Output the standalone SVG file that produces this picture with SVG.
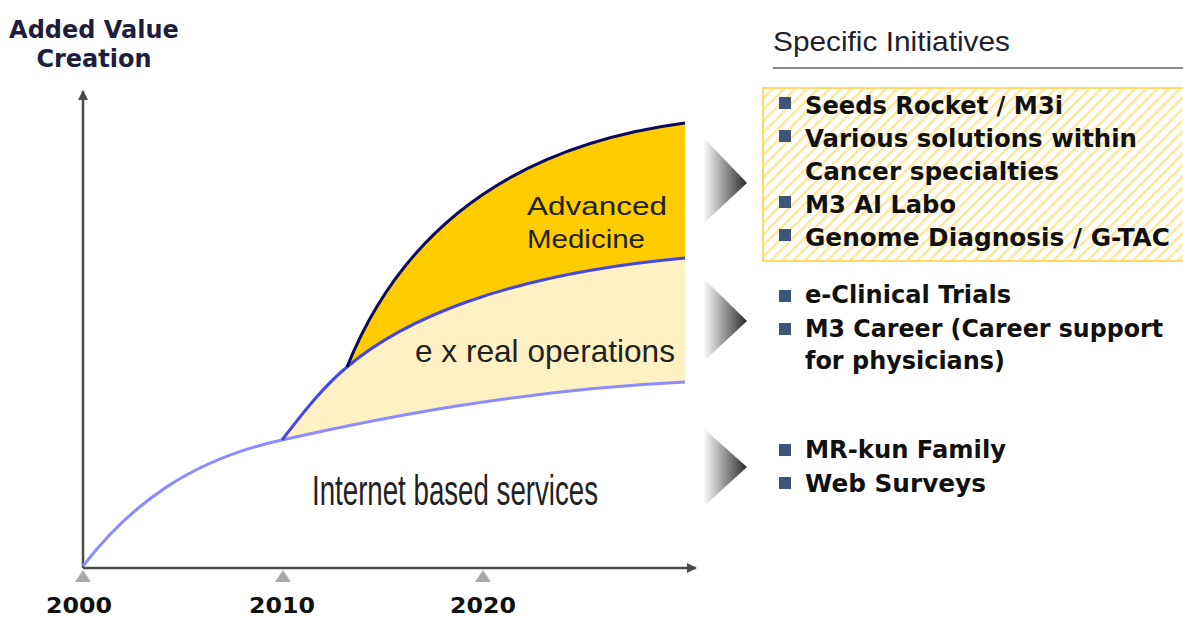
<svg xmlns="http://www.w3.org/2000/svg" width="1183" height="619" viewBox="0 0 1183 619">
<defs>
<style>
.title{font-family:"DejaVu Sans",Verdana,sans-serif;font-weight:bold;font-size:24px;fill:#1e1e3c}
.year{font-family:"DejaVu Sans",Verdana,sans-serif;font-weight:bold;font-size:22px;fill:#111}
.item{font-family:"DejaVu Sans",Verdana,sans-serif;font-weight:bold;font-size:24px;fill:#111}
.area{font-family:"Liberation Sans",Arial,sans-serif;fill:#222}
.bullet{fill:#3d5578}
.axis{stroke:#4a4a4a;stroke-width:2.5;fill:none}
.tick{fill:#aaaaaa}
</style>
<linearGradient id="chev" x1="0" y1="0" x2="1" y2="0">
<stop offset="0" stop-color="#ffffff"/>
<stop offset="1" stop-color="#2a2a2a"/>
</linearGradient>
<pattern id="hatch" patternUnits="userSpaceOnUse" width="8" height="8" patternTransform="rotate(45)">
<rect width="8" height="8" fill="#ffffff"/>
<rect width="2.5" height="8" fill="#ffe699"/>
</pattern>
<marker id="arr" viewBox="0 0 10 10" refX="9" refY="5" markerWidth="4" markerHeight="4" orient="auto">
<path d="M0,0 L10,5 L0,10 Z" fill="#4a4a4a"/>
</marker>
</defs>
<rect width="1183" height="619" fill="#ffffff"/>

<g id="chart-areas">
<path id="advanced-area" d="M347,367 C390,260 480,150 685,123 L685,258 C500,275 400,322 347,367 Z" fill="#ffcc00"/>
<path id="ex-area" d="M282,440 C305,410 325,385 347,367 C400,322 500,275 685,258 L685,382 C520,390 380,418 282,440 Z" fill="#fff1c4"/>
</g>

<g id="connectors">
<line class="axis" x1="83" y1="568" x2="83" y2="91" marker-end="url(#arr)"/>
<line class="axis" x1="83" y1="568" x2="696" y2="568" marker-end="url(#arr)"/>
<path id="internet-curve" d="M83,566 C130,505 190,460 282,440 C380,418 520,390 685,382" fill="none" stroke="#8c8cff" stroke-width="3"/>
<path id="ex-curve" d="M282,440 C305,410 325,385 347,367 C400,322 500,275 685,258" fill="none" stroke="#4646e0" stroke-width="3"/>
<path id="advanced-curve" d="M347,367 C390,260 480,150 685,123" fill="none" stroke="#0a0a5e" stroke-width="3"/>
<polygon points="703,137 747,183 703,224" fill="url(#chev)"/>
<polygon points="703,278 747,321 703,362" fill="url(#chev)"/>
<polygon points="703,428 747,467 703,507" fill="url(#chev)"/>
</g>

<g id="y-axis-label">
<text class="title" x="94" y="38" text-anchor="middle">Added Value</text>
<text class="title" x="94" y="67" text-anchor="middle">Creation</text>
</g>

<g id="time-axis">
<polygon class="tick" points="75,582 83,570 91,582"/>
<polygon class="tick" points="275,582 283,570 291,582"/>
<polygon class="tick" points="475,582 483,570 491,582"/>
<text class="year" x="79" y="613" text-anchor="middle" textLength="66" lengthAdjust="spacingAndGlyphs">2000</text>
<text class="year" x="282" y="613" text-anchor="middle" textLength="66" lengthAdjust="spacingAndGlyphs">2010</text>
<text class="year" x="483" y="613" text-anchor="middle" textLength="66" lengthAdjust="spacingAndGlyphs">2020</text>
</g>

<g id="advanced-medicine">
<text class="area" x="527" y="215" font-size="25" textLength="140" lengthAdjust="spacingAndGlyphs">Advanced</text>
<text class="area" x="527" y="248" font-size="25" textLength="118" lengthAdjust="spacingAndGlyphs">Medicine</text>
</g>

<g id="ex-real-operations">
<text class="area" x="415" y="362" font-size="32" textLength="260" lengthAdjust="spacingAndGlyphs">e x real operations</text>
</g>

<g id="internet-services">
<text class="area" x="312" y="505" font-size="43" textLength="286" lengthAdjust="spacingAndGlyphs">Internet based services</text>
</g>

<g id="specific-initiatives">
<text x="773" y="51" font-family="Liberation Sans, Arial, sans-serif" font-size="28" fill="#1e1e2e" textLength="237" lengthAdjust="spacingAndGlyphs">Specific Initiatives</text>
<line x1="773" y1="68" x2="1183" y2="68" stroke="#8a8a8a" stroke-width="2"/>
</g>

<g id="advanced-initiatives">
<rect x="763" y="88" width="422" height="173" fill="url(#hatch)" stroke="#ffd966" stroke-width="2"/>
<rect class="bullet" x="779" y="97" width="12" height="12"/>
<text class="item" x="805" y="114" textLength="258" lengthAdjust="spacingAndGlyphs">Seeds Rocket / M3i</text>
<rect class="bullet" x="779" y="130" width="12" height="12"/>
<text class="item" x="805" y="147" textLength="332" lengthAdjust="spacingAndGlyphs">Various solutions within</text>
<text class="item" x="805" y="180" textLength="254" lengthAdjust="spacingAndGlyphs">Cancer specialties</text>
<rect class="bullet" x="779" y="196" width="12" height="12"/>
<text class="item" x="805" y="213" textLength="151" lengthAdjust="spacingAndGlyphs">M3 AI Labo</text>
<rect class="bullet" x="779" y="229" width="12" height="12"/>
<text class="item" x="805" y="246" textLength="365" lengthAdjust="spacingAndGlyphs">Genome Diagnosis / G-TAC</text>
</g>

<g id="ex-initiatives">
<rect class="bullet" x="779" y="290" width="12" height="12"/>
<text class="item" x="805" y="303" textLength="206" lengthAdjust="spacingAndGlyphs">e-Clinical Trials</text>
<rect class="bullet" x="779" y="323" width="12" height="12"/>
<text class="item" x="805" y="337" textLength="358" lengthAdjust="spacingAndGlyphs">M3 Career (Career support</text>
<text class="item" x="805" y="369" textLength="200" lengthAdjust="spacingAndGlyphs">for physicians)</text>
</g>

<g id="internet-initiatives">
<rect class="bullet" x="779" y="444" width="12" height="12"/>
<text class="item" x="805" y="458" textLength="201" lengthAdjust="spacingAndGlyphs">MR-kun Family</text>
<rect class="bullet" x="779" y="477" width="12" height="12"/>
<text class="item" x="805" y="492" textLength="181" lengthAdjust="spacingAndGlyphs">Web Surveys</text>
</g>
</svg>
